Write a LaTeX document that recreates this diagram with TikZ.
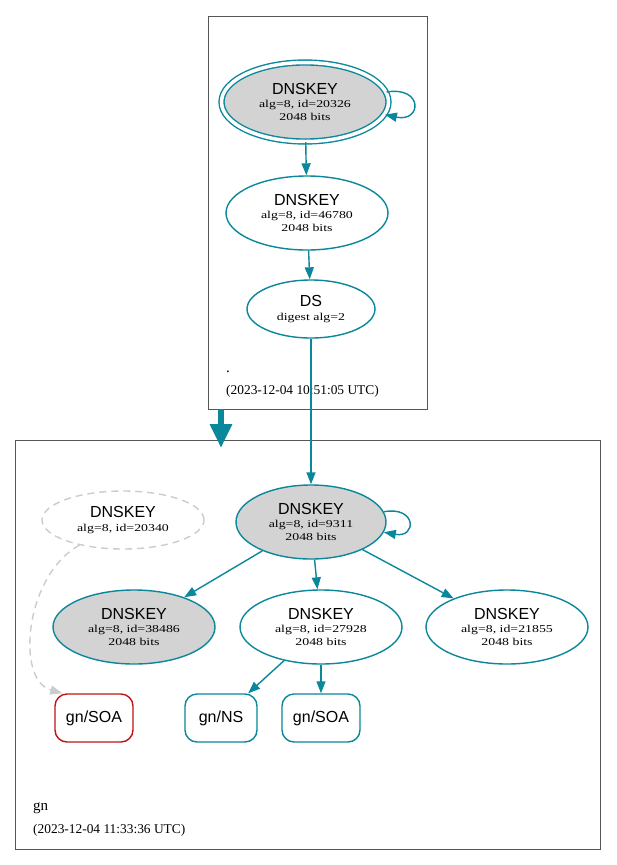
\documentclass[tikz,border=0pt]{standalone}
\usepackage{fontspec}
\setmainfont{Liberation Serif}
\newfontfamily\hv{Liberation Sans}
\newfontfamily\nodeserif[FakeStretch=1.32]{Liberation Serif}
\usetikzlibrary{arrows.meta,shapes.geometric}
\definecolor{tealc}{HTML}{0A879A}
\definecolor{lgray}{HTML}{D3D3D3}
\definecolor{dgray}{HTML}{CCCCCC}
\definecolor{redc}{HTML}{BE1515}
\definecolor{boxc}{HTML}{555555}
\newcommand\bigtxt[1]{{\hv\fontsize{16}{16}\selectfont #1}}
\newcommand\keylabel[1]{\bigtxt{DNSKEY}\\alg=8, id=#1\\2048 bits}
\begin{document}
\begin{tikzpicture}[x=1pt,y=-1pt,
  key/.style={ellipse, draw=tealc, line width=1.4pt, inner sep=0pt, align=center,
    font=\nodeserif\fontsize{10.5}{13.3}\selectfont, minimum width=162pt, minimum height=74pt},
  keyfill/.style={key, fill=lgray},
  edge/.style={draw=tealc, line width=1.4pt, -{Triangle[length=12pt,width=9pt]}},
  rr/.style={rectangle, rounded corners=12pt, draw=tealc, line width=1.4pt,
    minimum width=78pt, minimum height=48pt, font=\hv\fontsize{16}{16}\selectfont},
  cluster/.style={draw=boxc, line width=0.8pt},
  zlabel/.style={anchor=base west, inner sep=0pt, font=\fontsize{15}{15}\selectfont},
  tlabel/.style={anchor=base west, inner sep=0pt, font=\fontsize{13.4}{13.4}\selectfont}]
\useasboundingbox (0,0) rectangle (616,865);
\fill[white] (0,0) rectangle (616,865);
% clusters
\draw[cluster] (208,16) rectangle (427,409);
\draw[cluster] (15,440) rectangle (600,849);
\coordinate (c1) at (221,409);
\coordinate (c2) at (221,448);
% top zone
\node[keyfill, double=white, double distance=3.5pt, minimum width=167pt, minimum height=79pt] (r) at (305,102) {\keylabel{20326}};
\node[key] (k46780) at (307,213) {\keylabel{46780}};
\node[key, minimum width=128pt, minimum height=58pt] (ds) at (311,309) {\bigtxt{DS}\\digest alg=2};
\node[zlabel] (dot) at (226,372) {.};
\node[tlabel] (t1) at (226,394) {(2023-12-04 10:51:05 UTC)};
% bottom zone
\node[key, draw=dgray, dashed, dash pattern=on 7pt off 5pt, minimum height=58pt] (k20340) at (123,520) {\bigtxt{DNSKEY}\\alg=8, id=20340};
\node[keyfill, minimum width=150pt] (k9311) at (311,522) {\keylabel{9311}};
\node[keyfill] (k38486) at (134,627) {\keylabel{38486}};
\node[key] (k27928) at (321,627) {\keylabel{27928}};
\node[key] (k21855) at (507,627) {\keylabel{21855}};
\node[rr, draw=redc] (soa1) at (94,718) {gn/SOA};
\node[rr, minimum width=72pt] (ns) at (221,718) {gn/NS};
\node[rr] (soa2) at (321,718) {gn/SOA};
\node[zlabel] (gn) at (33,810) {gn};
\node[tlabel] (t2) at (33,833) {(2023-12-04 11:33:36 UTC)};
% edges
\draw[edge] (r.7) .. controls +(37,-6) and +(37,8) .. (r.-9);
\draw[edge] (r) -- (k46780);
\draw[edge] (k46780) -- (ds);
\draw[edge] (ds) -- (k9311);
\draw[draw=tealc, line width=6pt, -{Triangle[length=24pt,width=21pt]}] (c1) -- (c2);
\draw[edge] (k9311.8) .. controls +(33,-6) and +(33,6) .. (k9311.-8);
\draw[edge] (k9311) -- (k38486);
\draw[edge] (k9311) -- (k27928);
\draw[edge] (k9311) -- (k21855);
\draw[edge] (k27928) -- (ns);
\draw[edge] (k27928) -- (soa2);
\draw[draw=dgray, line width=1.4pt, dash pattern=on 7pt off 5pt, -{Triangle[length=12pt,width=9pt]}]
  (k20340.210) .. controls (25,575) and (15,680) .. ([xshift=8pt]soa1.north west);
\end{tikzpicture}
\end{document}
